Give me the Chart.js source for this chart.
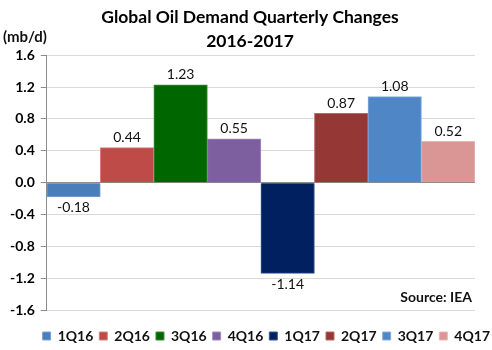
<!DOCTYPE html>
<html>
<head>
<meta charset="utf-8">
<script src="https://cdn.jsdelivr.net/npm/chart.js@4"></script>
<style>
  html, body { margin: 0; padding: 0; background: #fff; }
  #wrap { width: 492px; height: 350px; position: relative; }
</style>
</head>
<body>
<div id="wrap"><canvas id="chart"></canvas></div>
<script>
// ── Data ──────────────────────────────────────────────────
const QUARTERS = ['1Q16', '2Q16', '3Q16', '4Q16', '1Q17', '2Q17', '3Q17', '4Q17'];
const CHANGES  = [-0.18, 0.44, 1.23, 0.55, -1.14, 0.87, 1.08, 0.52];
const BAR_COLORS    = ['#4A7EBB', '#BE4B48', '#006600', '#7D5FA0', '#002060', '#953735', '#4F86C6', '#D99694'];
const BORDER_COLORS = ['#7FA3D0', '#D8807E', '#3C8C3C', '#A38CBE', '#3A5A8C', '#B86A68', '#86AEDC', '#E8B8B7'];
const Y_TICKS = [-1.6, -1.2, -0.8, -0.4, 0.0, 0.4, 0.8, 1.2, 1.6];

const FONT = 'Lato, "Liberation Sans", sans-serif';

// ── Value labels, unit and source ─────────────────────────
const labelsPlugin = {
  id: 'valueLabels',
  afterDatasetsDraw(chart) {
    const ctx = chart.ctx;
    ctx.save();
    ctx.font = '14px ' + FONT;
    ctx.fillStyle = '#111';
    ctx.textAlign = 'center';
    chart.data.datasets.forEach((ds, i) => {
      const meta = chart.getDatasetMeta(i);
      if (meta.hidden) return;
      const bar = meta.data[0];
      const v = ds.data[0];
      if (v >= 0) {
        ctx.textBaseline = 'bottom';
        ctx.fillText(v.toFixed(2), bar.x, bar.y - 3);
      } else {
        ctx.textBaseline = 'top';
        ctx.fillText(v.toFixed(2), bar.x, bar.y + 4);
      }
    });

    const area = chart.chartArea;
    ctx.font = 'bold 14px ' + FONT;
    ctx.textAlign = 'right';
    ctx.textBaseline = 'middle';
    ctx.fillText('Source: IEA', area.right - 3, 297);

    ctx.font = 'bold 15px ' + FONT;
    ctx.textAlign = 'left';
    ctx.fillText('(mb/d)', 3, 37);
    ctx.restore();
  }
};

// ── Chart ─────────────────────────────────────────────────
const datasets = QUARTERS.map((q, i) => ({
  label: q,
  data: [CHANGES[i]],
  backgroundColor: BAR_COLORS[i],
  borderColor: BORDER_COLORS[i],
  borderWidth: 1,
  categoryPercentage: 1.0,
  barPercentage: 1.0,
}));

new Chart(document.getElementById('chart'), {
  type: 'bar',
  data: { labels: [''], datasets },
  options: {
    responsive: true, maintainAspectRatio: false,
    animation: false,
    layout: { padding: { left: 4, right: -4, top: 0, bottom: -3 } },
    plugins: {
      title: {
        display: true,
        text: ['Global Oil Demand Quarterly Changes', '2016-2017'],
        font: { family: FONT, size: 17.5, weight: 'bold', lineHeight: 1.38 },
        color: '#000',
        padding: { top: 5, bottom: 2 },
      },
      legend: {
        position: 'bottom',
        align: 'end',
        labels: {
          font: { family: FONT, size: 14, weight: 'bold' },
          color: '#111',
          boxWidth: 8, boxHeight: 8,
          padding: 6,
        },
      },
      tooltip: { enabled: false },
    },
    scales: {
      x: {
        display: true,
        grid: { display: false, drawTicks: false },
        ticks: { display: false },
        border: { display: false },
        afterFit: s => { s.height = 13; },
      },
      y: {
        min: -1.6, max: 1.6,
        afterBuildTicks: axis => { axis.ticks = Y_TICKS.map(v => ({ value: v })); },
        ticks: {
          font: { family: FONT, size: 14, weight: 'bold' },
          color: '#000',
          padding: 6,
          callback: v => Number(v).toFixed(1),
        },
        grid: {
          color: c => c.tick && c.tick.value === 0 ? '#8c8c8c' : '#d9d9d9',
          tickColor: '#8c8c8c',
          tickLength: 6,
        },
        border: { color: '#8c8c8c' },
      },
      yRight: {
        position: 'right',
        display: true,
        grid: { display: false, drawTicks: false },
        ticks: { display: false },
        border: { display: false },
        afterFit: s => { s.width = 21; },
      },
    },
  },
  plugins: [labelsPlugin],
});
</script>
</body>
</html>
